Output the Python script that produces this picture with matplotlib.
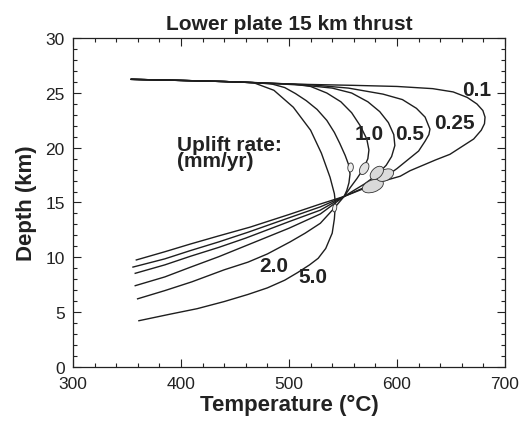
import numpy as np
import matplotlib
matplotlib.use("Agg")
import matplotlib.pyplot as plt
from matplotlib.patches import Ellipse
from matplotlib import transforms
from matplotlib.ticker import MultipleLocator

plt.rcParams['font.family'] = ['Liberation Sans', 'DejaVu Sans']

# P-T paths: temperature (C) and depth (km)
rate_labels = ['0.1', '0.25', '0.5', '1.0', '2.0', '5.0']

t_01 = [354, 400, 440, 480, 510, 560, 600, 633, 652, 665, 674, 679.5, 681.5, 681, 678, 671, 660, 649, 636, 624, 612, 603, 587, 570, 551,
        529, 500, 464, 435, 408.5, 385, 358.6]
d_01 = [26.25, 26.15, 26.05, 25.9, 25.8, 25.7, 25.6, 25.4, 25.1, 24.6, 24.0, 23.4, 22.8, 22.2, 21.6, 20.8, 20.1, 19.4, 18.9, 18.4, 17.9, 17.4, 16.95, 16.3, 15.55,
        14.86, 13.9, 12.75, 11.95, 11.2, 10.5, 9.75]

t_025 = [354, 400, 440, 480, 520, 555, 587, 605, 618, 626, 630.5, 629.5, 626, 620, 610, 600, 590, 575, 551,
         529, 500, 462, 435, 408.5, 385, 355.5]
d_025 = [26.25, 26.15, 26.05, 25.9, 25.75, 25.45, 24.9, 24.4, 23.6, 22.8, 21.7, 21.2, 20.6, 19.7, 18.9, 18.1, 17.4, 16.6, 15.55,
         14.6, 13.6, 12.28, 11.4, 10.6, 9.85, 9.1]

t_05 = [354, 400, 440, 480, 515, 540, 558, 573, 584, 592, 597, 598, 595, 590, 581, 570, 560, 551,
        529, 500, 460, 435, 408.5, 385, 357.6]
d_05 = [26.25, 26.15, 26.05, 25.9, 25.7, 25.45, 25.0, 24.2, 23.3, 22.3, 21.2, 20.2, 19.2, 18.4, 17.5, 16.7, 16.1, 15.55,
        14.3, 13.25, 11.75, 10.9, 10.08, 9.3, 8.53]

t_10 = [354, 400, 440, 480, 505, 520, 535, 548, 558, 566, 572, 574, 573, 569, 563, 557, 551,
        529, 500, 460, 435, 408.5, 385, 357.6]
d_10 = [26.25, 26.15, 26.05, 25.9, 25.8, 25.6, 25.0, 24.2, 23.2, 22.0, 20.8, 19.8, 19.0, 18.1, 17.2, 16.4, 15.55,
        13.95, 12.65, 11.05, 10.05, 9.08, 8.2, 7.4]

t_20 = [354, 400, 440, 470, 485, 496, 506, 516, 526, 535, 542, 547, 552, 555, 556.5, 555.5, 553.5, 551,
        542, 529, 515, 501, 480, 462, 440, 410, 385, 359.8]
d_20 = [26.25, 26.15, 26.05, 25.95, 25.8, 25.5, 24.95, 24.3, 23.5, 22.5, 21.4, 20.4, 19.3, 18.5, 17.6, 16.8, 16.1, 15.55,
        14.5, 13.1, 12.2, 11.4, 10.3, 9.55, 8.85, 7.75, 6.95, 6.2]

t_50 = [354, 400, 440, 467, 486, 504, 520, 530, 538, 542, 543, 542, 540, 534, 527, 519, 508, 496, 480, 462, 440, 415, 390, 361]
d_50 = [26.25, 26.15, 26.05, 25.95, 25.25, 23.7, 21.6, 19.5, 17.3, 15.8, 14.9, 13.5, 12.2, 10.8, 9.9, 9.3, 8.6, 7.9, 7.2, 6.6, 5.95, 5.3, 4.8, 4.2]

# label positions
lab_t = [674, 653, 612, 574.5, 486, 522.5]
lab_d = [25.3, 22.3, 21.3, 21.3, 9.2, 8.2]

# shaded ellipses: centre (T, depth), size in pixels, angle
ell_t = [577.6, 589, 581.3, 569.6, 557, 542.3]
ell_d = [16.5, 17.5, 17.7, 18.1, 18.2, 14.5]
ell_w = [22, 18, 16, 13, 9, 8]
ell_h = [12, 11, 10, 8, 5.5, 4]
ell_a = [20, 25, 45, 60, 85, 80]
ell_c = ['#d9d9d9', '#dcdcdc', '#d9d9d9', '#e2e2e2', '#f0f0f0', '#f0f0f0']

fig = plt.figure(figsize=(5.23, 4.27), dpi=100)
ax = fig.add_axes([0.1396, 0.1389, 0.8260, 0.7691])

for t, d in [(t_01, d_01), (t_025, d_025), (t_05, d_05), (t_10, d_10), (t_20, d_20), (t_50, d_50)]:
    ax.plot(t, d, color='#1e1e1e', lw=1.0, zorder=2)

for i in range(len(ell_t)):
    tr = fig.dpi_scale_trans + transforms.ScaledTranslation(ell_t[i], ell_d[i], ax.transData)
    e = Ellipse((0, 0), ell_w[i] / 100, ell_h[i] / 100, angle=ell_a[i],
                facecolor=ell_c[i], edgecolor='#333333', lw=0.6, transform=tr, zorder=3)
    ax.add_patch(e)

for s, x, y in zip(rate_labels, lab_t, lab_d):
    ax.text(x, y, s, fontsize=15, fontweight='bold', ha='center', va='center', color='#222222', zorder=4)

ax.text(396, 19.55, 'Uplift rate:\n(mm/yr)', fontsize=15, fontweight='bold', ha='left', va='center',
        linespacing=0.8, color='#222222')

ax.set_xlim(300, 700)
ax.set_ylim(0, 30)
ax.xaxis.set_major_locator(MultipleLocator(100))
ax.xaxis.set_minor_locator(MultipleLocator(20))
ax.yaxis.set_major_locator(MultipleLocator(5))
ax.yaxis.set_minor_locator(MultipleLocator(1))
ax.tick_params(which='both', direction='in', top=True, right=True, labelsize=12.5, colors='#222222')
ax.tick_params(axis='x', which='major', pad=7)
ax.tick_params(axis='y', which='major', pad=6)
ax.tick_params(which='major', length=6, width=0.8)
ax.tick_params(which='minor', length=3, width=0.8)
for sp in ax.spines.values():
    sp.set_linewidth(0.9)
    sp.set_color('#222222')

ax.set_title('Lower plate 15 km thrust', fontsize=15, fontweight='bold', pad=7, color='#222222')
ax.set_xlabel('Temperature (°C)', fontsize=16, fontweight='bold', labelpad=2, color='#222222')
ax.set_ylabel('Depth (km)', fontsize=16, fontweight='bold', labelpad=6, color='#222222')

plt.savefig('out.png', dpi=100)
